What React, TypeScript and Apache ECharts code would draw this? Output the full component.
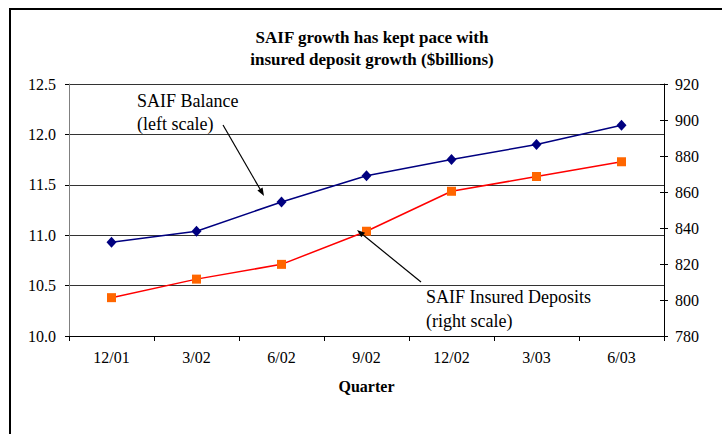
import React, { useEffect, useRef } from "react";
import * as echarts from "echarts";

const quarters = ["12/01", "3/02", "6/02", "9/02", "12/02", "3/03", "6/03"];
const saifBalance = [10.93, 11.04, 11.33, 11.59, 11.75, 11.9, 12.09];
const insuredDeposits = [801.3, 811.6, 819.8, 838.2, 860.4, 868.6, 876.8];

const FONT = "'Liberation Serif', 'Times New Roman', serif";

function arrow(x1: number, y1: number, x2: number, y2: number) {
  const dx = x2 - x1;
  const dy = y2 - y1;
  const len = Math.sqrt(dx * dx + dy * dy);
  const ux = dx / len;
  const uy = dy / len;
  const hl = 8;
  const hw = 3;
  const bx = x2 - ux * hl;
  const by = y2 - uy * hl;
  const px = -uy;
  const py = ux;
  return [
    {
      type: "line",
      shape: { x1, y1, x2: bx, y2: by },
      style: { stroke: "#000", lineWidth: 1.2 },
      z: 10,
    },
    {
      type: "polygon",
      shape: {
        points: [
          [x2, y2],
          [bx + px * hw, by + py * hw],
          [bx - px * hw, by - py * hw],
        ],
      },
      style: { fill: "#000" },
      z: 10,
    },
  ];
}

export default function App() {
  const ref = useRef<HTMLDivElement>(null);
  useEffect(() => {
    document.body.style.margin = "0";
    if (!ref.current) return;
    const chart = echarts.init(ref.current, null, { renderer: "svg" });
    chart.setOption({
      animation: false,
      backgroundColor: "#fff",
      title: {
        text: "SAIF growth has kept pace with\ninsured deposit growth ($billions)",
        left: 367,
        top: 21,
        textAlign: "center",
        textStyle: {
          fontFamily: FONT,
          fontWeight: "bold",
          fontSize: 17,
          lineHeight: 22,
          color: "#000",
        },
      },
      grid: { left: 69, right: 58, top: 84, bottom: 98, containLabel: false },
      xAxis: {
        type: "category",
        data: quarters,
        boundaryGap: true,
        name: "Quarter",
        nameLocation: "middle",
        nameGap: 42,
        nameTextStyle: {
          fontFamily: FONT,
          fontWeight: "bold",
          fontSize: 16,
          color: "#000",
        },
        axisLine: { lineStyle: { color: "#000", width: 1 } },
        axisTick: { show: true, length: 5, inside: false, lineStyle: { color: "#000" } },
        axisLabel: { fontFamily: FONT, fontSize: 16, color: "#000", margin: 13 },
        splitLine: { show: false },
      },
      yAxis: [
        {
          type: "value",
          position: "left",
          min: 10,
          max: 12.5,
          interval: 0.5,
          axisLine: { show: true, lineStyle: { color: "#808080", width: 1 } },
          axisTick: { show: true, length: 4, lineStyle: { color: "#000" } },
          axisLabel: {
            fontFamily: FONT,
            fontSize: 16,
            color: "#000",
            margin: 13,
            formatter: (v: number) => v.toFixed(1),
          },
          splitLine: { show: true, lineStyle: { color: "#333", width: 1 } },
        },
        {
          type: "value",
          position: "right",
          min: 780,
          max: 920,
          interval: 20,
          axisLine: { show: true, lineStyle: { color: "#000", width: 1 } },
          axisTick: { show: true, length: 4, lineStyle: { color: "#000" } },
          axisLabel: { fontFamily: FONT, fontSize: 16, color: "#000", margin: 11 },
          splitLine: { show: false },
        },
        {
          type: "value",
          position: "right",
          offset: 0,
          min: 780,
          max: 920,
          interval: 20,
          axisLine: { show: false },
          axisTick: { show: true, inside: true, length: 4, lineStyle: { color: "#000" } },
          axisLabel: { show: false },
          splitLine: { show: false },
        },
      ],
      series: [
        {
          name: "SAIF Balance",
          type: "line",
          yAxisIndex: 0,
          data: saifBalance,
          symbol: "diamond",
          symbolSize: [10, 11],
          lineStyle: { color: "#000080", width: 1.5 },
          itemStyle: { color: "#000080" },
          z: 3,
        },
        {
          name: "SAIF Insured Deposits",
          type: "line",
          yAxisIndex: 1,
          data: insuredDeposits,
          symbol: "rect",
          symbolSize: 9,
          lineStyle: { color: "#FF0000", width: 1.5 },
          itemStyle: { color: "#FF6600" },
          z: 3,
        },
      ],
      graphic: [
        {
          type: "rect",
          shape: { x: 10, y: 9, width: 800, height: 600 },
          style: { fill: "none", stroke: "#000", lineWidth: 2 },
          z: 0,
          silent: true,
        },
        {
          type: "text",
          x: 137,
          y: 89,
          style: {
            text: "SAIF Balance\n(left scale)",
            font: `18px ${FONT}`,
            lineHeight: 23,
            fill: "#000",
          },
          z: 10,
        },
        {
          type: "text",
          x: 426,
          y: 285,
          style: {
            text: "SAIF Insured Deposits\n(right scale)",
            font: `18px ${FONT}`,
            lineHeight: 24,
            fill: "#000",
          },
          z: 10,
        },
        ...arrow(223, 125, 264, 196),
        ...arrow(421, 282, 357, 230),
      ],
    });
    return () => chart.dispose();
  }, []);
  return <div ref={ref} style={{ width: 722, height: 434 }} />;
}
